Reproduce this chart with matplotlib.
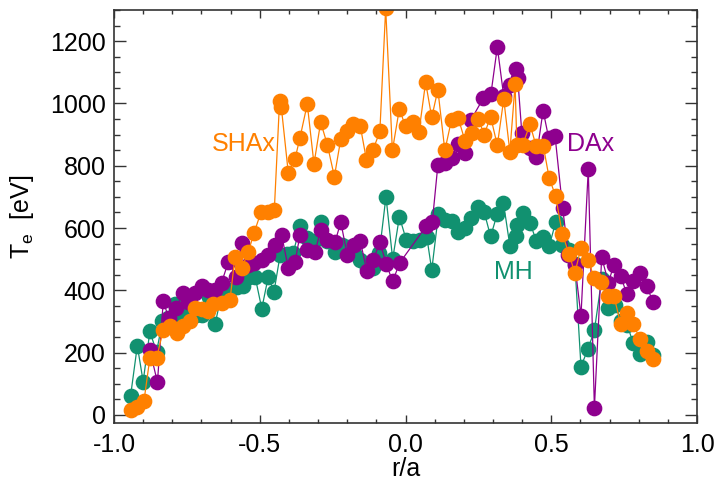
import numpy as np
import matplotlib
matplotlib.use('Agg')
import matplotlib.pyplot as plt
from matplotlib.ticker import MultipleLocator

plt.rcParams['font.family'] = ['Liberation Sans', 'DejaVu Sans']
plt.rcParams['mathtext.fontset'] = 'custom'
plt.rcParams['mathtext.rm'] = 'Liberation Sans'

# r/a and Te [eV] for the three states
mh_r = [-0.943, -0.920, -0.900, -0.877, -0.854, -0.834, -0.814, -0.792, -0.768, -0.747,
        -0.720, -0.698, -0.673, -0.653, -0.628, -0.602, -0.579, -0.558, -0.538, -0.516,
        -0.493, -0.471, -0.451, -0.430, -0.408, -0.385, -0.362, -0.337, -0.314, -0.291,
        -0.268, -0.242, -0.219, -0.196, -0.177, -0.156, -0.133, -0.110, -0.090, -0.067,
        -0.044, -0.021, 0.003, 0.027, 0.050, 0.073, 0.090, 0.113, 0.135, 0.158,
        0.180, 0.204, 0.226, 0.249, 0.270, 0.292, 0.315, 0.336, 0.358, 0.378,
        0.383, 0.402, 0.427, 0.449, 0.472, 0.493, 0.515, 0.538, 0.561, 0.581,
        0.602, 0.626, 0.648, 0.673, 0.696, 0.719, 0.739, 0.760, 0.781, 0.804,
        0.828, 0.849]
mh_te = [62, 222, 107, 268, 202, 300, 310, 356, 308, 330,
         322, 322, 378, 293, 400, 401, 412, 415, 444, 444,
         341, 443, 396, 514, 518, 521, 605, 569, 557, 619,
         557, 524, 546, 540, 520, 498, 471, 471, 519, 701,
         500, 636, 561, 558, 562, 572, 465, 644, 626, 621,
         587, 600, 632, 669, 651, 573, 646, 681, 543, 573,
         610, 647, 617, 558, 572, 542, 618, 545, 530, 485,
         155, 212, 271, 437, 343, 352, 303, 289, 232, 196,
         233, 193]

dax_r = [-0.877, -0.851, -0.831, -0.812, -0.787, -0.764, -0.745, -0.722, -0.699, -0.676,
         -0.653, -0.631, -0.608, -0.581, -0.562, -0.539, -0.519, -0.493, -0.471, -0.448,
         -0.425, -0.402, -0.379, -0.362, -0.337, -0.310, -0.291, -0.268, -0.242, -0.222,
         -0.200, -0.177, -0.155, -0.133, -0.110, -0.088, -0.066, -0.044, -0.020, 0.070,
         0.092, 0.111, 0.135, 0.158, 0.180, 0.204, 0.224, 0.267, 0.293, 0.315,
         0.337, 0.358, 0.380, 0.385, 0.399, 0.426, 0.449, 0.472, 0.491, 0.513,
         0.539, 0.559, 0.581, 0.602, 0.627, 0.648, 0.673, 0.696, 0.715, 0.738,
         0.759, 0.782, 0.804, 0.827, 0.850]
dax_te = [208, 105, 365, 310, 343, 392, 364, 391, 414, 401,
          401, 425, 490, 444, 553, 482, 487, 498, 514, 546,
          578, 471, 490, 578, 530, 524, 594, 562, 554, 619,
          514, 546, 558, 463, 498, 555, 484, 429, 488, 605,
          620, 802, 808, 824, 871, 840, 946, 1017, 1030, 1181,
          1023, 1060, 1110, 1081, 906, 856, 828, 977, 890, 896,
          664, 514, 482, 318, 789, 22, 506, 425, 482, 446,
          389, 430, 457, 414, 361]

shax_r = [-0.943, -0.920, -0.897, -0.877, -0.854, -0.831, -0.808, -0.785, -0.762, -0.739,
          -0.722, -0.699, -0.676, -0.659, -0.631, -0.602, -0.585, -0.562, -0.539, -0.520,
          -0.495, -0.473, -0.450, -0.432, -0.426, -0.402, -0.379, -0.362, -0.337, -0.314,
          -0.291, -0.268, -0.244, -0.222, -0.200, -0.179, -0.155, -0.134, -0.111, -0.088,
          -0.068, -0.045, -0.021, 0.000, 0.025, 0.046, 0.069, 0.090, 0.111, 0.135,
          0.158, 0.181, 0.204, 0.227, 0.250, 0.270, 0.292, 0.315, 0.337, 0.358,
          0.376, 0.382, 0.402, 0.427, 0.448, 0.473, 0.493, 0.515, 0.538, 0.561,
          0.581, 0.602, 0.627, 0.647, 0.671, 0.694, 0.715, 0.738, 0.759, 0.782,
          0.804, 0.827, 0.848]
shax_te = [15, 25, 46, 182, 182, 273, 284, 262, 284, 300,
           343, 339, 335, 356, 359, 369, 508, 471, 524, 583,
           653, 653, 658, 1008, 988, 776, 822, 890, 998, 806,
           940, 867, 765, 886, 912, 935, 927, 819, 852, 910,
           1305, 849, 983, 926, 942, 907, 1068, 955, 1044, 849,
           948, 953, 880, 905, 950, 900, 958, 865, 1014, 845,
           1061, 868, 867, 933, 864, 862, 760, 703, 581, 517,
           455, 537, 498, 439, 428, 382, 382, 292, 328, 291,
           244, 206, 180]

green = '#119170'
purple = '#8e008e'
orange = '#ff8000'

fig = plt.figure(figsize=(7.17, 4.84), dpi=100)
ax = fig.add_axes([114 / 717, 61 / 484, 583 / 717, 413 / 484])

for r, te, c in [(mh_r, mh_te, green), (dax_r, dax_te, purple), (shax_r, shax_te, orange)]:
    ax.plot(r, te, '-', color=c, lw=0.9, marker='o', ms=10.3, mec=c, mfc=c)

ax.text(-0.665, 870, 'SHAx', color=orange, fontsize=18, ha='left', va='center')
ax.text(0.555, 870, 'DAx', color=purple, fontsize=18, ha='left', va='center')
ax.text(0.305, 458, 'MH', color=green, fontsize=18, ha='left', va='center')

ax.set_xlim(-1.0, 1.0)
ax.set_ylim(-26, 1300)
ax.xaxis.set_major_locator(MultipleLocator(0.5))
ax.xaxis.set_minor_locator(MultipleLocator(0.1))
ax.yaxis.set_major_locator(MultipleLocator(200))
ax.yaxis.set_minor_locator(MultipleLocator(50))
ax.tick_params(which='both', direction='in', top=True, right=True, labelsize=18, color='#333333')
ax.tick_params(axis='x', which='major', length=5.8, width=1.0, pad=7)
ax.tick_params(axis='x', which='minor', length=2.9, width=1.0)
ax.tick_params(axis='y', which='major', length=8.6, width=1.0, pad=6)
ax.tick_params(axis='y', which='minor', length=4.3, width=1.0)
ax.xaxis.set_major_formatter(plt.FuncFormatter(lambda v, p: '%.1f' % v))
for s in ax.spines.values():
    s.set_linewidth(1.2)
    s.set_color('#333333')

ax.set_xlabel('r/a', fontsize=18, labelpad=0)
ax.set_ylabel('T$_{\\mathrm{e}}$  [eV]', fontsize=18, labelpad=10)

fig.savefig('out.png', dpi=100)
